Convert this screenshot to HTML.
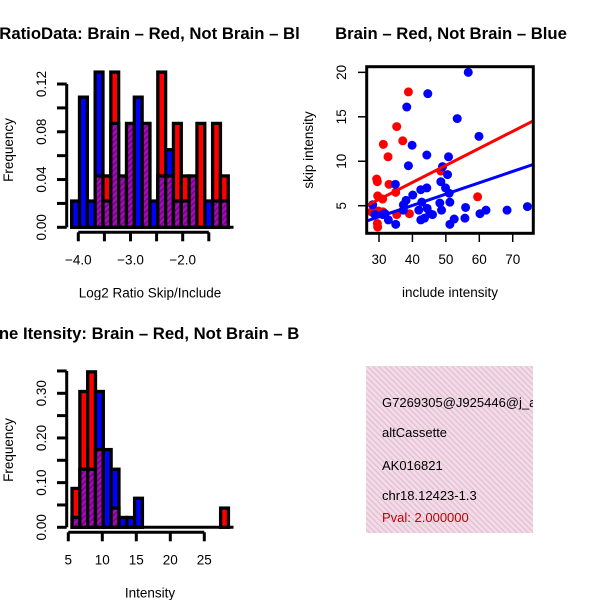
<!DOCTYPE html>
<html><head><meta charset="utf-8"><style>
html,body{margin:0;padding:0;background:#fff;}
svg{display:block;font-family:"Liberation Sans",sans-serif;}
</style></head><body>
<svg id="chart" width="600" height="600" viewBox="0 0 600 600" xmlns="http://www.w3.org/2000/svg">
<defs>
<pattern id="hatch" patternUnits="userSpaceOnUse" width="4" height="4" patternTransform="rotate(45)">
<rect width="4" height="4" fill="#a010b0"/><rect width="1.5" height="4" fill="#7a0090"/></pattern>
<pattern id="pink" patternUnits="userSpaceOnUse" width="4" height="4" patternTransform="rotate(-45)">
<rect width="4" height="4" fill="#f7d8ef"/><rect width="1.4" height="4" fill="#dcc8c8"/></pattern>
<clipPath id="c1"><rect x="0" y="0" width="300" height="300"/></clipPath>
<clipPath id="c2"><rect x="300" y="0" width="300" height="300"/></clipPath>
<clipPath id="c3"><rect x="0" y="300" width="300" height="300"/></clipPath>
<clipPath id="c4"><rect x="366" y="366" width="167" height="167"/></clipPath>
</defs>
<g id="p1" clip-path="url(#c1)"></g>
<g id="p2" clip-path="url(#c2)"></g>
<g id="p3" clip-path="url(#c3)"></g>
<g id="p4">
<rect x="366" y="366" width="167" height="167" fill="url(#pink)"/>
<g clip-path="url(#c4)" font-size="13">
<text x="382" y="407">G7269305@J925446@j_at</text>
<text x="382" y="437">altCassette</text>
<text x="382" y="470">AK016821</text>
<text x="382" y="500">chr18.12423-1.3</text>
<text x="382" y="522" fill="#c00000">Pval: 2.000000</text>
</g></g>
</svg>
<script>
// Histogram 1: log2 ratio
const h1Start = -4.127, h1Width = 0.15;
const h1Blue = [0.022,0.109,0.022,0.13,0.022,0.087,0.043,0.087,0.109,0.087,0.022,0.043,0.065,0.022,0.022,0.043,0,0.022,0.022,0.022];
const h1Red  = [0,0,0,0.043,0.043,0.13,0.043,0.087,0,0.087,0,0.13,0.043,0.087,0.043,0.043,0.087,0,0.087,0.043];
const h1XTicks = [-4.0,-3.5,-3.0,-2.5,-2.0,-1.5];
const h1XLabels = ["-4.0","-3.0","-2.0"];
const h1YTicks = [0,0.02,0.04,0.06,0.08,0.10,0.12];
const h1YLabels = ["0.00","0.04","0.08","0.12"];
// Histogram 3: intensity
const h3Start = 5.55, h3Width = 1.15;
const h3Blue = [0.022,0.13,0.13,0.304,0.174,0.13,0.022,0.022,0.065,0,0,0,0,0,0,0,0,0,0,0];
const h3Red  = [0.087,0.304,0.348,0.174,0,0.043,0,0,0,0,0,0,0,0,0,0,0,0,0,0.043];
const h3XTicks = [5,10,15,20,25];
const h3YTicks = [0,0.05,0.10,0.15,0.20,0.25,0.30,0.35];
const h3YLabels = ["0.00","0.10","0.20","0.30"];
// Scatter
const redX = [38.8,35.3,37.1,31.3,32.7,29.3,29.5,33.0,35.0,29.6,31.1,48.5,59.5,29.8,31.2,35.3,39.1,29.5,29.6,27.8];
const redY = [17.8,13.9,12.3,11.9,10.5,8.0,7.7,7.4,6.5,6.1,5.75,8.9,6.0,4.4,4.3,4.0,4.1,3.0,2.6,4.3];
const blueX = [56.7,44.6,38.3,53.4,59.9,39.9,44.3,50.8,38.8,49.0,34.9,48.5,50.5,49.9,51.0,51.2,44.3,42.5,40.1,38.1,37.3,42.8,48.2,48.7,37.3,41.9,44.4,45.2,46.0,43.6,42.5,51.2,52.5,55.7,55.9,60.2,62.0,68.3,74.4,35.0,32.8,31.1,28.8,28.1,31.8];
const blueY = [20,17.6,16.1,14.8,12.8,11.8,10.7,10.5,9.5,9.4,7.4,7.7,8.5,7.0,6.4,5.4,7.0,6.8,6.2,5.6,5.1,5.4,5.3,4.5,4.5,4.5,4.7,4.1,4.0,3.6,3.4,2.9,3.5,3.6,4.8,4.1,4.5,4.5,4.9,2.9,3.4,4.0,4.0,5.1,4.1];
const redLine = [[26.3,5.0],[76.2,14.55]];
const blueLine = [[26.3,3.28],[76.2,9.65]];
const scXTicks = [30,40,50,60,70];
const scYTicks = [5,10,15,20];

const NS="http://www.w3.org/2000/svg";
function mk(parent,tag,attrs,text){const e=document.createElementNS(NS,tag);for(const k in attrs)e.setAttribute(k,attrs[k]);if(text!==undefined)e.textContent=text;parent.appendChild(e);return e;}

function hist(g,o){
  const sx=v=>o.x0+(v-o.xv0)*o.xs, sy=v=>o.y0-v*o.ys;
  mk(g,'text',{x:o.titleX,y:o.titleY,'text-anchor':'middle','font-size':16.7,'font-weight':'bold'},o.title);
  const first=sx(o.start);
  const bl=mk(g,'line',{x1:first,x2:233.5,y1:o.y0,y2:o.y0,stroke:'#000','stroke-width':3});
  
  for(let i=0;i<o.blue.length;i++){
    const a=sx(o.start+i*o.w), b=sx(o.start+(i+1)*o.w);
    const bv=o.blue[i], rv=o.red[i], mn=Math.min(bv,rv), mx=Math.max(bv,rv);
    if(mx===0) continue;
    const col = bv>=rv?'#0000ff':'#ff0000';
    let r=mk(g,'rect',{x:a,y:sy(mx),width:b-a,height:sy(0)-sy(mx),fill:mx>mn?col:'url(#hatch)',stroke:'#000','stroke-width':3.3});
    
    
    if(mn>0&&mx>mn){
      r=mk(g,'rect',{x:a,y:sy(mn),width:b-a,height:sy(0)-sy(mn),fill:'url(#hatch)',stroke:'#000','stroke-width':3.3});
      
      
    }
  }
  const ax=mk(g,'g',{stroke:'#000','stroke-width':3});
  
  
  mk(ax,'line',{x1:sx(o.xt[0]),x2:sx(o.xt[o.xt.length-1]),y1:o.y0+5,y2:o.y0+5});
  o.xt.forEach(t=>mk(ax,'line',{x1:sx(t),x2:sx(t),y1:o.y0+5,y2:o.y0+14}));
  o.xl.forEach(t=>{const e=mk(g,'text',{x:sx(parseFloat(t)),y:o.y0+37,'text-anchor':'middle','font-size':13.5},t.replace('-','\u2212'));});
  mk(g,'text',{x:150,y:o.y0+70,'text-anchor':'middle','font-size':13.5},o.xlab);
  const ay=mk(g,'g',{stroke:'#000','stroke-width':3});
  
  
  mk(ay,'line',{x1:66.7,x2:66.7,y1:sy(o.yt[0]),y2:sy(o.yt[o.yt.length-1])});
  o.yt.forEach(t=>mk(ay,'line',{x1:57,x2:66.7,y1:sy(t),y2:sy(t)}));
  o.yl.forEach(t=>{const y=sy(parseFloat(t));const e=mk(g,'text',{x:46,y:y,'text-anchor':'middle','font-size':13.5,transform:`rotate(-90 46 ${y})`},t);});
  const yl=mk(g,'text',{x:13,y:o.ylabY,'text-anchor':'middle','font-size':13.5,transform:`rotate(-90 13 ${o.ylabY})`},'Frequency');
  
}
hist(document.getElementById('p1'),{title:'Log2 RatioData: Brain \u2013 Red, Not Brain \u2013 Blue',titleX:137,titleY:39,x0:78.3,xv0:-4.0,xs:52.2,y0:227.3,ys:1194,start:h1Start,w:h1Width,blue:h1Blue,red:h1Red,xt:h1XTicks,xl:h1XLabels,yt:h1YTicks,yl:h1YLabels,xlab:'Log2 Ratio Skip/Include',ylabY:150});
hist(document.getElementById('p3'),{title:'Gene Itensity: Brain \u2013 Red, Not Brain \u2013 Blue',titleX:150,titleY:339,x0:68.3,xv0:5,xs:6.8,y0:527.3,ys:446.7,start:h3Start,w:h3Width,blue:h3Blue,red:h3Red,xt:h3XTicks,xl:h3XTicks.map(String),yt:h3YTicks,yl:h3YLabels,xlab:'Intensity',ylabY:450});

(function(){
  const g=document.getElementById('p2');
  const sx=v=>379+(v-30)*3.343, sy=v=>205.7-(v-5)*8.89;
  mk(g,'text',{x:451,y:39,'text-anchor':'middle','font-size':16.7,'font-weight':'bold'},'Brain \u2013 Red, Not Brain \u2013 Blue');
  const pts=(xs,ys,c,n)=>xs.forEach((x,i)=>{const e=mk(g,'circle',{cx:sx(x),cy:sy(ys[i]),r:4.5,fill:c});
    
    });
  pts(redX,redY,'#ff0000','point-brain');
  pts(blueX,blueY,'#0000ff','point-not-brain');
  let l=mk(g,'line',{x1:sx(redLine[0][0]),y1:sy(redLine[0][1]),x2:sx(redLine[1][0]),y2:sy(redLine[1][1]),stroke:'#ff0000','stroke-width':3});
  
  l=mk(g,'line',{x1:sx(blueLine[0][0]),y1:sy(blueLine[0][1]),x2:sx(blueLine[1][0]),y2:sy(blueLine[1][1]),stroke:'#0000ff','stroke-width':3});
  
  const b=mk(g,'rect',{x:366.7,y:66.7,width:166.6,height:166.6,fill:'none',stroke:'#000','stroke-width':3});
  
  scXTicks.forEach(t=>{mk(g,'line',{x1:sx(t),x2:sx(t),y1:233.3,y2:242,stroke:'#000','stroke-width':1.5});
    const e=mk(g,'text',{x:sx(t),y:264,'text-anchor':'middle','font-size':13.5},String(t));});
  scYTicks.forEach(t=>{mk(g,'line',{x1:358,x2:366.7,y1:sy(t),y2:sy(t),stroke:'#000','stroke-width':1.5});
    const y=sy(t);const e=mk(g,'text',{x:346,y:y,'text-anchor':'middle','font-size':13.5,transform:`rotate(-90 346 ${y})`},String(t));});
  mk(g,'text',{x:450,y:297,'text-anchor':'middle','font-size':13.5},'include intensity');
  mk(g,'text',{x:313,y:150,'text-anchor':'middle','font-size':13.5,transform:'rotate(-90 313 150)'},'skip intensity');
})();
</script>
</body></html>
